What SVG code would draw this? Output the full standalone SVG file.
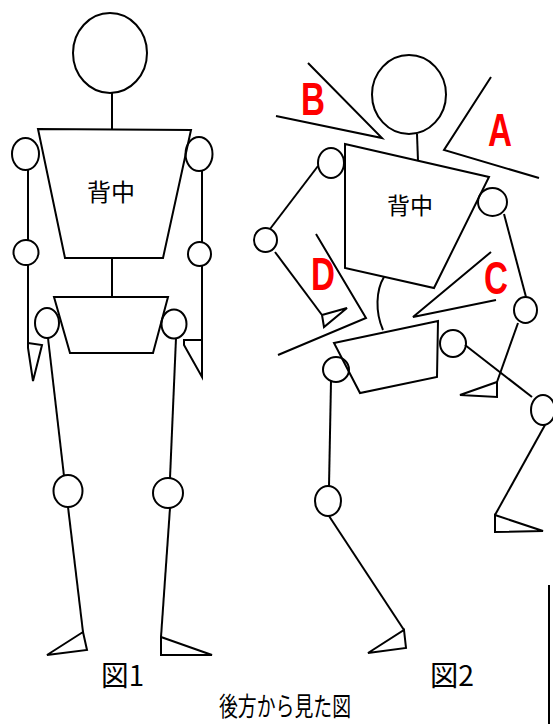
<svg xmlns="http://www.w3.org/2000/svg" width="553" height="724" viewBox="0 0 553 724">
  <style>
    .ln { fill: none; stroke: #000; stroke-width: 2; stroke-linejoin: miter; stroke-linecap: butt; }
    .jt { fill: none; stroke: #000; stroke-width: 2; }
    .lbl { font-family: "Noto Sans CJK JP", "Noto Sans", sans-serif; fill: #000; }
    .mark { font-family: "Liberation Sans", Arial, sans-serif; font-weight: bold; font-size: 46px; fill: #ff0000; }
  </style>
  <rect width="553" height="724" fill="#fff"/>

  <!-- Figure 1: standing, seen from behind -->
  <g id="fig1">
    <g id="fig1-head"><ellipse class="jt" cx="110" cy="53" rx="37" ry="40"/></g>
    <g id="fig1-back">
      <polygon class="ln" points="38,129 191,130 163,258 65,258"/>
      <text class="lbl" x="111" y="201" font-size="24" text-anchor="middle">背中</text>
    </g>
    <g id="fig1-pelvis"><polygon class="ln" points="54,297 168,297 153,353 70,353"/></g>
    <g id="fig1-shoulder-l"><ellipse class="jt" cx="25.5" cy="154" rx="13.5" ry="16"/></g>
    <g id="fig1-shoulder-r"><ellipse class="jt" cx="199" cy="154" rx="13.5" ry="17"/></g>
    <g id="fig1-elbow-l"><ellipse class="jt" cx="26" cy="252.5" rx="12.5" ry="12.5"/></g>
    <g id="fig1-elbow-r"><ellipse class="jt" cx="199.5" cy="254" rx="11.5" ry="12"/></g>
    <g id="fig1-hip-l"><ellipse class="jt" cx="47" cy="323" rx="12" ry="15"/></g>
    <g id="fig1-hip-r"><ellipse class="jt" cx="174" cy="324" rx="12.5" ry="14.5"/></g>
    <g id="fig1-knee-l"><ellipse class="jt" cx="68" cy="491" rx="14.5" ry="16"/></g>
    <g id="fig1-knee-r"><ellipse class="jt" cx="168" cy="493" rx="15" ry="15"/></g>
    <g id="fig1-hand-l"><polygon class="ln" points="28,343 42,345 33,381 28,348"/></g>
    <g id="fig1-hand-r"><polygon class="ln" points="184,340 202,340 202,377 184,345"/></g>
    <g id="fig1-foot-l"><polygon class="ln" points="83,632 87,650 47,655"/></g>
    <g id="fig1-foot-r"><polygon class="ln" points="161,637 212,655 161,655"/></g>
  </g>

  <!-- Figure 2: twisted pose, seen from behind -->
  <g id="fig2">
    <g id="fig2-head"><ellipse class="jt" cx="409" cy="94.5" rx="37" ry="39.5"/></g>
    <g id="fig2-back">
      <polygon class="ln" points="345,144 489,177 434,288 345,268"/>
      <text class="lbl" x="410" y="214" font-size="23" text-anchor="middle">背中</text>
    </g>
    <g id="fig2-pelvis"><polygon class="ln" points="334,343 438,321 437,377 360,393"/></g>
    <g id="fig2-shoulder-l"><ellipse class="jt" cx="331" cy="163" rx="13" ry="15"/></g>
    <g id="fig2-shoulder-r"><ellipse class="jt" cx="492.5" cy="202" rx="14.5" ry="14"/></g>
    <g id="fig2-elbow-l"><ellipse class="jt" cx="265.5" cy="240" rx="11.5" ry="12"/></g>
    <g id="fig2-elbow-r"><ellipse class="jt" cx="525.5" cy="310" rx="11.5" ry="13"/></g>
    <g id="fig2-hip-l"><ellipse class="jt" cx="336" cy="369.5" rx="13" ry="12.5"/></g>
    <g id="fig2-hip-r"><ellipse class="jt" cx="453" cy="343.5" rx="13" ry="13.5"/></g>
    <g id="fig2-knee-l"><ellipse class="jt" cx="328" cy="501" rx="13" ry="15"/></g>
    <g id="fig2-knee-r"><ellipse class="jt" cx="543" cy="410" rx="12" ry="15"/></g>
    <g id="fig2-hand-l"><polygon class="ln" points="322,315 347,308 324,327"/></g>
    <g id="fig2-hand-r"><polygon class="ln" points="497,382 497,397 460,395"/></g>
    <g id="fig2-foot-l"><polygon class="ln" points="404,630 406,648 368,653"/></g>
    <g id="fig2-foot-r"><polygon class="ln" points="495,515 543,531 495,532"/></g>

    <!-- twist markers -->
    <g id="mark-a">
      <polyline class="ln" points="491,77 444,150 539,178"/>
      <text class="mark" x="488" y="146" textLength="24" lengthAdjust="spacingAndGlyphs">A</text>
    </g>
    <g id="mark-b">
      <polyline class="ln" points="308,63 382,138 276,116"/>
      <text class="mark" x="301" y="115" textLength="24" lengthAdjust="spacingAndGlyphs">B</text>
    </g>
    <g id="mark-c">
      <polyline class="ln" points="491,252 413,317 496,300"/>
      <text class="mark" x="484" y="294" textLength="24" lengthAdjust="spacingAndGlyphs">C</text>
    </g>
    <g id="mark-d">
      <polyline class="ln" points="316,234 366,318 278,355"/>
      <text class="mark" x="311" y="290" textLength="24" lengthAdjust="spacingAndGlyphs">D</text>
    </g>
  </g>

  <!-- connectors: neck, spine and limb segments -->
  <g id="connectors" class="ln">
    <!-- figure 1 -->
    <line x1="112" y1="93" x2="112" y2="129"/>
    <line x1="112" y1="258" x2="112" y2="297"/>
    <line x1="28" y1="170" x2="28" y2="240"/>
    <line x1="202" y1="171" x2="202" y2="242"/>
    <line x1="28" y1="265" x2="28" y2="348"/>
    <line x1="202" y1="266" x2="202" y2="340"/>
    <line x1="48" y1="338" x2="64" y2="476"/>
    <line x1="176" y1="338" x2="170" y2="478"/>
    <line x1="68" y1="507" x2="83" y2="632"/>
    <line x1="170" y1="508" x2="161" y2="637"/>
    <!-- figure 2 -->
    <line x1="417" y1="134" x2="418" y2="161"/>
    <path d="M384,277 C376,290 375,312 383,330"/>
    <line x1="318" y1="166" x2="270" y2="229"/>
    <line x1="275" y1="252" x2="322" y2="315"/>
    <line x1="504" y1="214" x2="526" y2="297"/>
    <line x1="518" y1="323" x2="497" y2="382"/>
    <line x1="331" y1="381" x2="329" y2="486"/>
    <line x1="465" y1="345" x2="532" y2="397"/>
    <line x1="329" y1="516" x2="404" y2="630"/>
    <line x1="545" y1="425" x2="495" y2="515"/>
  </g>

  <!-- captions -->
  <text class="lbl" x="101" y="686" font-size="28" textLength="43" lengthAdjust="spacingAndGlyphs">図1</text>
  <text class="lbl" x="430" y="686" font-size="28" textLength="44" lengthAdjust="spacingAndGlyphs">図2</text>
  <text class="lbl" x="219" y="716" font-size="26" textLength="132" lengthAdjust="spacingAndGlyphs">後方から見た図</text>

  <line class="ln" x1="549" y1="585" x2="549" y2="724"/>
</svg>
